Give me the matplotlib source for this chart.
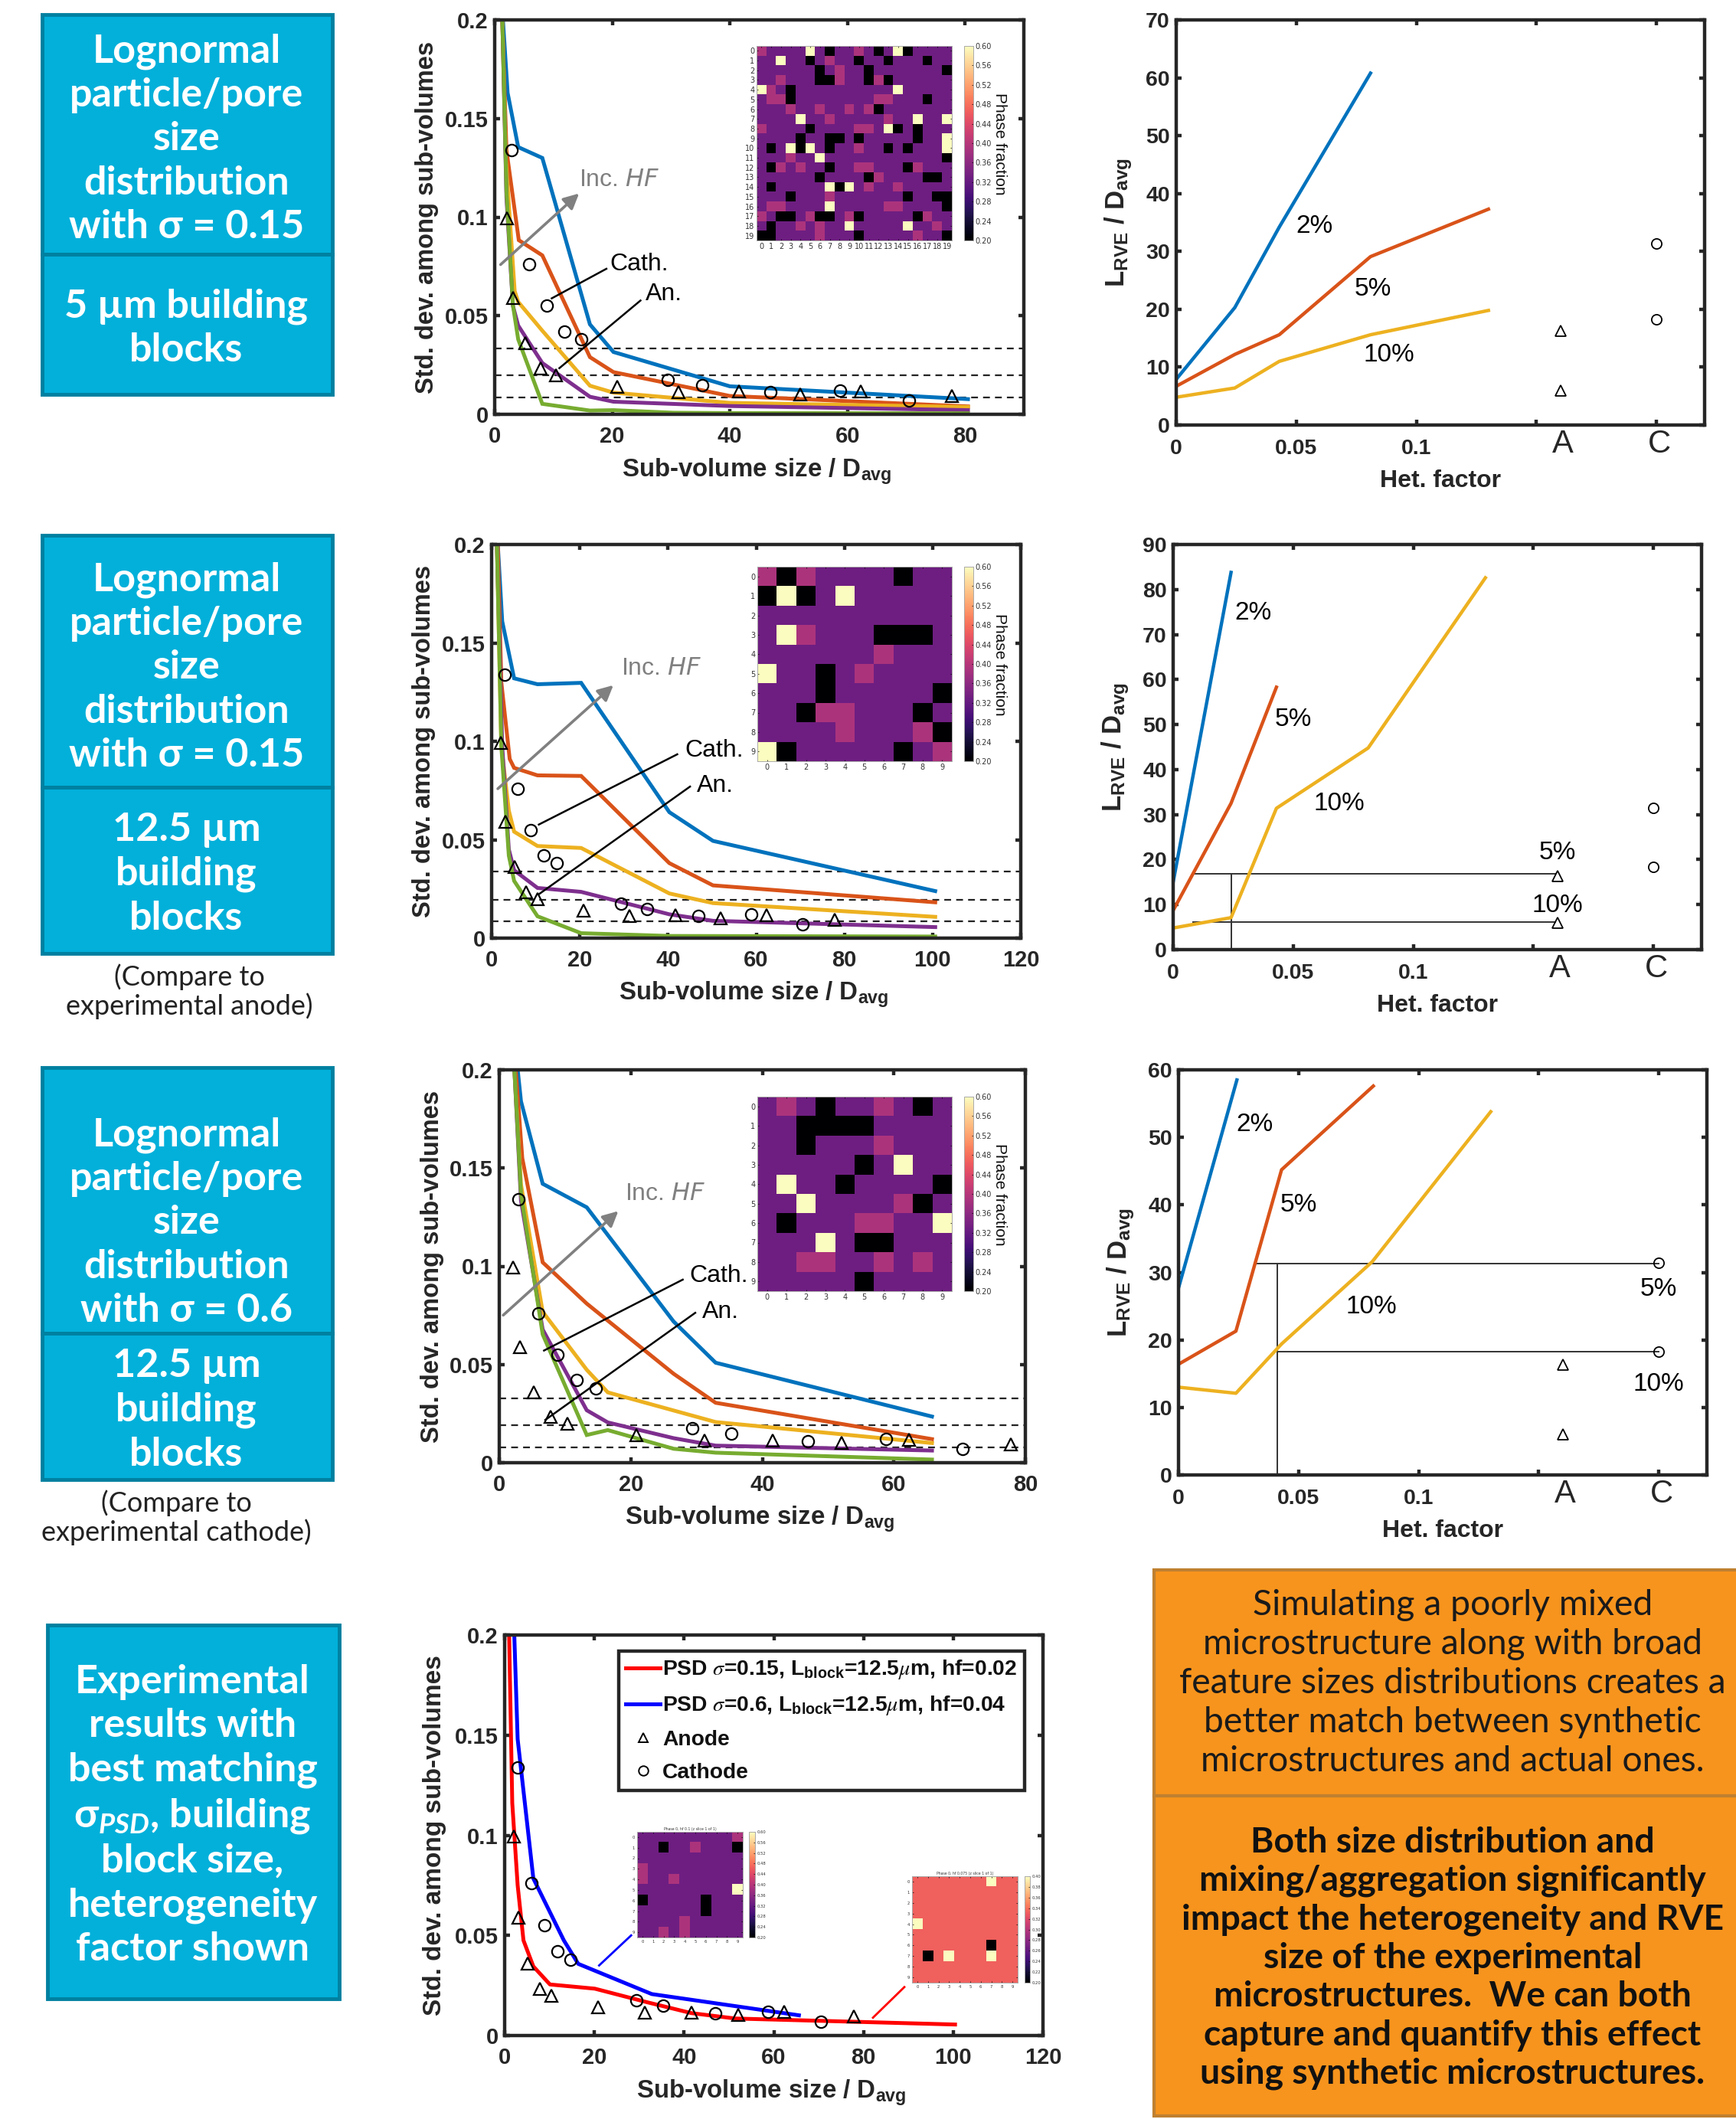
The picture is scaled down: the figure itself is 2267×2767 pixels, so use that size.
import numpy as np
import matplotlib
matplotlib.use("Agg")
import matplotlib.pyplot as plt
from matplotlib.patches import Rectangle
from matplotlib.lines import Line2D
from matplotlib.transforms import blended_transform_factory

plt.rcParams['font.family'] = ['Liberation Sans', 'DejaVu Sans']
plt.rcParams['mathtext.fontset'] = 'stix'
plt.rcParams['mathtext.default'] = 'regular'

W, H = 2267, 2767
DARK = '#262626'
C_BLUE, C_RED, C_YEL, C_PUR, C_GRN = '#0072BD', '#D95319', '#EDB120', '#7E2F8E', '#77AC30'
BOX_FILL, BOX_EDGE = '#02B0DA', '#0080A0'
ORG_FILL, ORG_EDGE = '#F7941D', '#BF8030'

# ---------------- experimental data
anode_x = [2.1, 3.1, 5.2, 7.8, 10.4, 20.8, 31.2, 41.6, 52.0, 62.3, 77.8]
anode_y = [0.0993, 0.059, 0.036, 0.0234, 0.020, 0.014, 0.0113, 0.0115, 0.0102, 0.0118, 0.0094]
cath_x = [2.9, 5.9, 8.9, 11.8, 14.7, 29.4, 35.3, 46.9, 58.8, 70.5]
cath_y = [0.134, 0.076, 0.055, 0.042, 0.038, 0.0176, 0.0148, 0.0111, 0.012, 0.007]
rve_anode_y = [16.3, 6.0]
rve_cath_y = [31.4, 18.3]
rve_anode_x = [0.16, 0.16]
rve_cath_x = [0.2, 0.2]

# ---------------- panel 1 curves
p1_blue = ([1.4, 2.2, 4, 8.1, 16.2, 20.2, 40, 80.5], [0.2, 0.163, 0.1355, 0.13, 0.0456, 0.0316, 0.0142, 0.0077])
p1_red = ([1.3, 2, 4.1, 8.1, 16.2, 20.2, 40, 80.5], [0.2, 0.134, 0.0883, 0.0806, 0.029, 0.0214, 0.0093, 0.004])
p1_yel = ([1.3, 1.9, 3.4, 4, 8.1, 16.2, 20.2, 40, 80.5], [0.2, 0.129, 0.0625, 0.057, 0.0424, 0.0145, 0.011, 0.0058, 0.0037])
p1_pur = ([1.3, 2, 3.1, 4, 8.1, 16.2, 20.2, 40, 80.5], [0.2, 0.11, 0.055, 0.045, 0.026, 0.0089, 0.0064, 0.0042, 0.0021])
p1_grn = ([1.3, 2, 3.1, 4, 8.1, 16.2, 20.2, 30.4, 40, 80.5], [0.2, 0.113, 0.0553, 0.038, 0.0053, 0.0019, 0.0021, 0.0008, 0.0006, 0.0005])
p1_hl = [0.0335, 0.0197, 0.0087]

# ---------------- panel 2 curves
p2_blue = ([1.4, 2.4, 5.1, 10.4, 20.3, 40.3, 50.2, 100.6], [0.2, 0.161, 0.132, 0.129, 0.1297, 0.064, 0.0494, 0.0239])
p2_red = ([1.4, 2.2, 4.1, 5.1, 10.4, 20.3, 40.3, 50.2, 100.6], [0.2, 0.13, 0.091, 0.0865, 0.0827, 0.0824, 0.0381, 0.0268, 0.0182])
p2_yel = ([1.2, 2.2, 3.9, 5.1, 10.4, 20.3, 40.3, 50.2, 100.6], [0.2, 0.0975, 0.0648, 0.0541, 0.0468, 0.0458, 0.0227, 0.0178, 0.0108])
p2_pur = ([1.2, 2.4, 3.9, 5.1, 10.4, 20.3, 40.3, 50.2, 100.6], [0.2, 0.0975, 0.0451, 0.0345, 0.0255, 0.0235, 0.0121, 0.0088, 0.0056])
p2_grn = ([1.2, 2.2, 3.9, 5.1, 10.4, 20.3, 40.3, 100.6], [0.2, 0.0975, 0.0419, 0.0291, 0.0111, 0.0025, 0.0011, 0.0008])
p2_hl = [0.0337, 0.0196, 0.0087]

# ---------------- panel 3 curves
p3_blue = ([2.8, 3.3, 6.6, 13.3, 26.5, 32.9, 65.8], [0.2, 0.184, 0.142, 0.13, 0.0719, 0.0509, 0.0235])
p3_red = ([2.5, 3.5, 6.6, 13.3, 26.5, 32.9, 65.8], [0.2, 0.155, 0.102, 0.081, 0.0453, 0.0305, 0.012])
p3_yel = ([2.3, 3.3, 6.6, 13.3, 16.5, 32.9, 65.8], [0.2, 0.1416, 0.0768, 0.0473, 0.0358, 0.0207, 0.01])
p3_pur = ([2.3, 3.3, 6.6, 13.3, 16.5, 26.5, 32.9, 65.8], [0.2, 0.1334, 0.0678, 0.0267, 0.0205, 0.0125, 0.0087, 0.0062])
p3_grn = ([2.3, 3.3, 6.6, 13.3, 16.5, 26.5, 32.9, 65.8], [0.2, 0.1367, 0.0653, 0.0141, 0.0166, 0.0071, 0.0051, 0.0016])
p3_hl = [0.0328, 0.019, 0.0079]

# ---------------- panel 4 curves
p4_red = ([1.0, 1.7, 2.9, 4.2, 6.4, 10.1, 20.1, 31.8, 41.6, 51.4, 71, 100.4],
          [0.2, 0.116, 0.075, 0.0475, 0.0345, 0.0255, 0.0234, 0.0166, 0.0112, 0.0085, 0.0073, 0.0055])
p4_blue = ([2.15, 2.9, 6.4, 13.2, 16.4, 32.8, 65.6], [0.2, 0.148, 0.0784, 0.0475, 0.0358, 0.0207, 0.0101])
p4_labels = ['PSD $\\mathit{\\sigma}$=0.15, L$_{block}$=12.5$\\mathit{\\mu}$m, hf=0.02',
             'PSD $\\mathit{\\sigma}$=0.6, L$_{block}$=12.5$\\mathit{\\mu}$m, hf=0.04',
             'Anode', 'Cathode']

# ---------------- RVE panels
r1_blue = ([0, 0.0244, 0.0429, 0.0809], [7.9, 20.3, 34.2, 60.8])
r1_red = ([0, 0.0244, 0.0429, 0.0809, 0.13], [6.7, 12.2, 15.6, 29.1, 37.3])
r1_yel = ([0, 0.0244, 0.0429, 0.0809, 0.13], [4.8, 6.4, 11.0, 15.6, 19.8])
r2_blue = ([0, 0.0241], [15.0, 83.8])
r2_red = ([0, 0.0241, 0.043], [8.7, 32.5, 58.3])
r2_yel = ([0, 0.0241, 0.043, 0.0812, 0.13], [4.8, 7.1, 31.4, 44.8, 82.6])
r3_blue = ([0, 0.0243], [27.7, 58.5])
r3_red = ([0, 0.0239, 0.0429, 0.0811], [16.4, 21.3, 45.2, 57.6])
r3_yel = ([0, 0.0239, 0.0429, 0.0807, 0.13], [13.0, 12.1, 19.4, 31.6, 53.8])
r2_guides = [([0.0084, 0.159], [16.9, 16.9]), ([0.0084, 0.159], [6.2, 6.2]), ([0.0241, 0.0241], [0, 16.9])]
r3_guides = [([0.0329, 0.2], [31.3, 31.3]), ([0.041, 0.2], [18.25, 18.25]), ([0.041, 0.041], [0, 31.3])]

# ---------------- heat maps
CELL = {'.': 0.33, 'p': 0.39, 'k': 0.20, 'c': 0.60}
map1 = ["p....c.k..p.k.ck....", "..c..k.p..k..k...k..", "......k.p..k.......k", "..p...kkp..kpk......",
        "cp.k..........c.....", ".ppk........pp...k..", "...p..p..p.pk.......", "....c..p.....p..c..c",
        "p....k....pp.ck.k...", "....k..kk.k.....k..c", ".k.ckc.k..p..k.k...c", "...p..c............k",
        ".kp.p..k..pp...kp...", "......k....kp....kk.", ".k.....ckc.p..p.....", "...k...p.......k..kk",
        ".pp....c.....pp....k", "p.kk.pkk.pk.....kp..", ".k..p.p..c.....c..p.", "kk....p...k.....p..k"]
map2 = ["pkp....k..", "kck.c.....", "..........", ".cp...kkk.", "......p...",
        "c..k.p....", "...k.....k", "..kpp...k.", "....p...pk", "ck.....k.p"]
map3 = [".p.k..p.k.", "..kkkk....", "..k...p...", ".....k.c..", ".c..k....k",
        "..c....pk.", ".k...pp..c", "...c.kk...", "..pp..p.p.", ".....k...."]
map4a = [".........p", "..k..p...k", "..........", "p.........", "p..p......",
         ".........c", "k.....k...", "......k...", "....p.....", "..p.p....."]
map4b_cell = {'.': 0.333, 'k': 0.20, 'c': 0.40}
map4b = [".......c..", "..........", "..........", "..........", "c.........",
         "..........", ".......k..", ".k.c...c..", "..........", ".........."]
cb_ticks_a = [0.20, 0.24, 0.28, 0.32, 0.36, 0.40, 0.44, 0.48, 0.52, 0.56, 0.60]
cb_ticks_b = [0.20, 0.22, 0.24, 0.26, 0.28, 0.30, 0.32, 0.34, 0.36, 0.38, 0.40]

# ---------------- box texts
BOX_TXT = [
    (55, 19, 434, 332, 5, "Lognormal\nparticle/pore\nsize\ndistribution\nwith σ = 0.15"),
    (55, 332, 434, 515, 4, "5 µm building\nblocks"),
    (55, 699, 434, 1028, 7, "Lognormal\nparticle/pore\nsize\ndistribution\nwith σ = 0.15"),
    (55, 1028, 434, 1245, 4, "12.5 µm\nbuilding\nblocks"),
    (55, 1394, 434, 1741, 28, "Lognormal\nparticle/pore\nsize\ndistribution\nwith σ = 0.6"),
    (55, 1741, 434, 1932, 4, "12.5 µm\nbuilding\nblocks"),
    (62, 2122, 443, 2610, 4, "Experimental\nresults with\nbest matching\nσ$_{\\mathit{PSD}}$, building\nblock size,\nheterogeneity\nfactor shown"),
]
ORG_TXT_1 = ("Simulating a poorly mixed\nmicrostructure along with broad\nfeature sizes distributions creates a\n"
             "better match between synthetic\nmicrostructures and actual ones.")
ORG_TXT_2 = ("Both size distribution and\nmixing/aggregation significantly\nimpact the heterogeneity and RVE\n"
             "size of the experimental\nmicrostructures.  We can both\ncapture and quantify this effect\n"
             "using synthetic microstructures.")
CAPTION_A = "(Compare to\nexperimental anode)"
CAPTION_C = "(Compare to\nexperimental cathode)"

fig = plt.figure(figsize=(W / 100, H / 100), dpi=100, facecolor='white')


def add_ax(l, t, r, b, **kw):
    return fig.add_axes([l / W, 1 - b / H, (r - l) / W, (b - t) / H], **kw)


def fx(x): return x / W
def fy(y): return 1 - y / H


BOXFONT = ['Lato', 'Open Sans', 'DejaVu Sans']
plt.rcParams['mathtext.it'] = 'Lato:italic:bold'
plt.rcParams['mathtext.rm'] = 'Lato:bold'


def box(l, t, r, b, fill, edge, lw=3.0):
    fig.add_artist(Rectangle((fx(l), fy(b)), (r - l) / W, (b - t) / H, transform=fig.transFigure,
                             facecolor=fill, edgecolor=edge, linewidth=lw))


for (l, t, r, b, dy, s) in BOX_TXT:
    box(l, t, r, b, BOX_FILL, BOX_EDGE, 3.5)
    fig.text(fx((l + r) / 2 - 1), fy((t + b) / 2 + 1 + dy), s, color='white', ha='center', va='center', fontsize=37.5,
             fontweight='bold', family=BOXFONT, linespacing=1.27, math_fontfamily='custom')

box(1507, 2050, 2272, 2345, ORG_FILL, ORG_EDGE, 3.0)
box(1507, 2345, 2272, 2763, ORG_FILL, ORG_EDGE, 3.0)
fig.text(fx(1897), fy(2198), ORG_TXT_1, ha='center', va='center', fontsize=33.3, color='#1a1a1a',
         family=BOXFONT, linespacing=1.26)
fig.text(fx(1897), fy(2557), ORG_TXT_2, ha='center', va='center', fontsize=33.3, color='#111111', fontweight='bold',
         family=BOXFONT, linespacing=1.24)
fig.text(fx(247), fy(1295), CAPTION_A, ha='center', va='center', fontsize=26, color='#222222', family=BOXFONT,
         linespacing=1.12)
fig.text(fx(230), fy(1982), CAPTION_C, ha='center', va='center', fontsize=26, color='#222222', family=BOXFONT,
         linespacing=1.12)


def style(ax, xlim, ylim, xticks, yticks, xticklabels=None, yticklabels=None, tfs=21, xpad=11):
    ax.set_xlim(*xlim)
    ax.set_ylim(*ylim)
    ax.set_xticks(xticks)
    ax.set_yticks(yticks)
    if xticklabels is not None:
        ax.set_xticklabels(xticklabels)
    if yticklabels is not None:
        ax.set_yticklabels(yticklabels)
    ax.tick_params(which='both', direction='in', top=True, right=True, length=5, width=3.2, color=DARK)
    ax.tick_params(axis='x', pad=xpad, labelsize=tfs, labelcolor=DARK)
    ax.tick_params(axis='y', pad=6, labelsize=tfs, labelcolor=DARK)
    for lab in ax.get_xticklabels() + ax.get_yticklabels():
        lab.set_fontweight('bold')
    for sp in ax.spines.values():
        sp.set_linewidth(3.2)
        sp.set_color(DARK)


YT = [0, 0.05, 0.1, 0.15, 0.2]
YTL = ['0', '0.05', '0.1', '0.15', '0.2']


def std_panel(ax, xlim, xticks, curves, hl, arrow, inc, cath, an):
    style(ax, (0, xlim), (0, 0.2), xticks, YT, [str(v) for v in xticks], YTL)
    for y in hl:
        ax.plot([0, xlim], [y, y], color='#222222', ls=(0, (4, 3)), lw=1.6, zorder=1)
    for (c, col) in curves:
        ax.plot(c[0], c[1], color=col, lw=3.6, solid_joinstyle='miter', zorder=2)
    ax.plot(anode_x, anode_y, ls='none', marker='^', mfc='none', mec='black', mew=1.6, ms=11, zorder=4, clip_on=False)
    ax.plot(cath_x, cath_y, ls='none', marker='o', mfc='none', mec='black', mew=1.6, ms=11, zorder=4, clip_on=False)
    ax.annotate('', xy=arrow[1], xytext=arrow[0],
                arrowprops=dict(arrowstyle='-|>', color='#808080', lw=2.6, mutation_scale=30, shrinkA=0, shrinkB=0), zorder=3)
    ax.text(inc[0], inc[1], 'Inc. $\\mathit{HF}$', color='#808080', fontsize=23, va='center', ha='left',
            math_fontfamily='dejavusans')
    ax.plot(cath[0], cath[1], color='black', lw=1.8, zorder=3)
    ax.text(cath[2], cath[3], 'Cath.', fontsize=23, va='center', ha='left', color='black', zorder=6)
    ax.plot(an[0], an[1], color='black', lw=1.8, zorder=3)
    ax.text(an[2], an[3], 'An.', fontsize=23, va='center', ha='left', color='black')
    ax.set_xlabel('Sub-volume size / D$_{avg}$', fontsize=23.8, fontweight='bold', color=DARK)
    ax.set_ylabel('Std. dev. among sub-volumes', fontsize=23.5, fontweight='bold', color=DARK)
    ax.xaxis.set_label_coords(0.495, -0.107)
    ax.yaxis.set_label_coords(-0.105, 0.5)


def heat(grid, cellmap, l, t, r, b, cb_l, cb_r, ticks, vmax, fs=7, title=None, cbl=True):
    vals = np.array([[cellmap[ch] for ch in row] for row in grid])
    ax = add_ax(l, t, r, b)
    im = ax.imshow(vals, cmap='magma', vmin=0.2, vmax=vmax, aspect='auto', interpolation='nearest')
    n = len(grid)
    ax.set_xticks(range(n))
    ax.set_yticks(range(n))
    ax.tick_params(labelsize=fs, length=1.5, width=0.5, direction='in', top=True, right=True, pad=2, labelcolor='#333333')
    for sp in ax.spines.values():
        sp.set_linewidth(0.7)
        sp.set_color('#aaaaaa')
    for lab in ax.get_xticklabels() + ax.get_yticklabels():
        lab.set_family('DejaVu Sans')
    cax = add_ax(cb_l, t, cb_r, b)
    cb = fig.colorbar(im, cax=cax, ticks=ticks)
    cb.ax.set_yticklabels(['%.2f' % v for v in ticks])
    cb.ax.tick_params(labelsize=fs, length=1.5, width=0.5, direction='in', pad=2, labelcolor='#333333')
    for lab in cb.ax.get_yticklabels():
        lab.set_family('DejaVu Sans')
    cb.outline.set_linewidth(0.7)
    cb.outline.set_edgecolor('#aaaaaa')
    if cbl:
        fig.text(fx(cb_r + 34), fy((t + b) / 2 + 1), 'Phase fraction', rotation=270, fontsize=15, ha='center', va='center', color='#111111')
    if title:
        ax.set_title(title, fontsize=fs - 0.5, pad=1.5, color='#333333', family='DejaVu Sans')
    return ax


# --- panel 1
ax1 = add_ax(646, 26, 1337, 541)
std_panel(ax1, 90, [0, 20, 40, 60, 80],
          [(p1_blue, C_BLUE), (p1_red, C_RED), (p1_yel, C_YEL), (p1_pur, C_PUR), (p1_grn, C_GRN)], p1_hl,
          ((1.0, 0.0759), (14.35, 0.112)), (14.35, 0.119),
          ([9.7, 19], [0.0588, 0.0738], 19.6, 0.0762), ([11, 24.8], [0.0234, 0.0577], 25.6, 0.0609))
heat(map1, CELL, 988, 60, 1243, 314, 1259, 1271, cb_ticks_a, 0.6)

# --- panel 2
ax2 = add_ax(642, 711, 1333, 1225)
std_panel(ax2, 120, [0, 20, 40, 60, 80, 100, 120],
          [(p2_blue, C_BLUE), (p2_red, C_RED), (p2_yel, C_YEL), (p2_pur, C_PUR), (p2_grn, C_GRN)], p2_hl,
          ((1.4, 0.0759), (27.6, 0.1285)), (29.3, 0.137),
          ([10.7, 42.1], [0.0577, 0.0934], 43.8, 0.0955), ([10.9, 45], [0.0226, 0.077], 46.6, 0.0775))
heat(map2, CELL, 989, 740, 1243, 994, 1259, 1271, cb_ticks_a, 0.6)

# --- panel 3
ax3 = add_ax(652, 1397, 1339, 1910)
std_panel(ax3, 80, [0, 20, 40, 60, 80],
          [(p3_blue, C_BLUE), (p3_red, C_RED), (p3_yel, C_YEL), (p3_pur, C_PUR), (p3_grn, C_GRN)], p3_hl,
          ((0.6, 0.0751), (18.1, 0.1281)), (19.1, 0.137),
          ([6.8, 27.9], [0.0571, 0.0932], 28.9, 0.0952), ([7, 29.8], [0.0218, 0.0763], 30.8, 0.0768))
heat(map3, CELL, 989, 1432, 1243, 1686, 1259, 1271, cb_ticks_a, 0.6)

# --- panel 4
ax4 = add_ax(659, 2135, 1362, 2658)
xt4 = [0, 20, 40, 60, 80, 100, 120]
style(ax4, (0, 120), (0, 0.2), xt4, YT, [str(v) for v in xt4], YTL)
l_r, = ax4.plot(p4_red[0], p4_red[1], color='#FF0000', lw=3.6, zorder=2)
l_b, = ax4.plot(p4_blue[0], p4_blue[1], color='#0000FF', lw=3.6, zorder=2)
m_a, = ax4.plot(anode_x, anode_y, ls='none', marker='^', mfc='none', mec='black', mew=1.6, ms=11, zorder=4)
m_c, = ax4.plot(cath_x, cath_y, ls='none', marker='o', mfc='none', mec='black', mew=1.6, ms=11, zorder=4)
ax4.plot([21.06, 28.2], [0.035, 0.05], color='#0000FF', lw=2)
ax4.plot([82.1, 89.1], [0.0089, 0.0242], color='#FF0000', lw=2)
ax4.set_xlabel('Sub-volume size / D$_{avg}$', fontsize=23.8, fontweight='bold', color=DARK)
ax4.set_ylabel('Std. dev. among sub-volumes', fontsize=24, fontweight='bold', color=DARK)
ax4.xaxis.set_label_coords(0.495, -0.107)
ax4.yaxis.set_label_coords(-0.108, 0.5)
leg_h = [l_r, l_b,
         Line2D([], [], ls='none', marker='^', mfc='none', mec='black', mew=1.4, ms=9),
         Line2D([], [], ls='none', marker='o', mfc='none', mec='black', mew=1.4, ms=9)]
leg = ax4.legend(leg_h, p4_labels, loc='upper left', bbox_to_anchor=((807.5 - 659) / 703, 1 - (2155.6 - 2135) / 523),
                 borderaxespad=0, fancybox=False, framealpha=1, edgecolor=DARK, handlelength=1.6, handletextpad=0.1,
                 labelspacing=0.6, borderpad=0.35, prop=dict(family='Liberation Sans', weight='bold', size=20.3))
leg.get_frame().set_linewidth(3.2)
for t in leg.get_texts():
    t.set_color('#111111')
heat(map4a, CELL, 832, 2392, 970, 2530, 978, 986, cb_ticks_a, 0.6, fs=3.8, title='Phase 0, hf 0.1 (z slice 1 of 1)', cbl=False)
heat(map4b, map4b_cell, 1191, 2450, 1329, 2589, 1338, 1345, cb_ticks_b, 0.4, fs=3.8, title='Phase 0, hf 0.075 (z slice 1 of 1)', cbl=False)


# --- RVE panels
def rve_panel(ax, ymax, yticks, curves, guides, labels):
    style(ax, (0, 0.22), (0, ymax), [0, 0.05, 0.1, 0.15, 0.2], yticks, ['0', '0.05', '0.1', '', ''],
          [str(v) for v in yticks], tfs=20.5, xpad=13)
    for g in guides:
        ax.plot(g[0], g[1], color='#333333', lw=1.4, zorder=1)
    for (c, col) in curves:
        ax.plot(c[0], c[1], color=col, lw=3.2, zorder=2)
    ax.plot(rve_anode_x, rve_anode_y, ls='none', marker='^', mfc='none', mec='black', mew=1.3, ms=9.5, zorder=4)
    ax.plot(rve_cath_x, rve_cath_y, ls='none', marker='o', mfc='none', mec='black', mew=1.3, ms=9.5, zorder=4)
    for (s, x, y) in labels:
        ax.text(x, y - ymax * 0.004, s, fontsize=24, ha='center', va='center', color='black')
    tr = blended_transform_factory(ax.transData, ax.transAxes)
    ax.text(0.1608, -0.048, 'A', transform=tr, fontsize=30, ha='center', va='center', color=DARK)
    ax.text(0.2012, -0.048, 'C', transform=tr, fontsize=30, ha='center', va='center', color=DARK)
    ax.set_xlabel('Het. factor', fontsize=23, fontweight='bold', color=DARK)
    ax.set_ylabel('L$_{RVE}$ / D$_{avg}$', fontsize=25, fontweight='bold', color=DARK)
    ax.xaxis.set_label_coords(0.5, -0.11)
    ax.yaxis.set_label_coords(-0.08, 0.5)


axr1 = add_ax(1536, 26, 2226, 555)
rve_panel(axr1, 70, list(range(0, 71, 10)), [(r1_blue, C_BLUE), (r1_red, C_RED), (r1_yel, C_YEL)], [],
          [('2%', 0.0575, 34.6), ('5%', 0.082, 23.8), ('10%', 0.0886, 12.4)])
axr2 = add_ax(1532, 711, 2222, 1240)
rve_panel(axr2, 90, list(range(0, 91, 10)), [(r2_blue, C_BLUE), (r2_red, C_RED), (r2_yel, C_YEL)], r2_guides,
          [('2%', 0.0334, 75.2), ('5%', 0.05, 51.5), ('10%', 0.069, 32.7), ('5%', 0.16, 21.8), ('10%', 0.16, 10.1)])
axr3 = add_ax(1539, 1397, 2229, 1926)
rve_panel(axr3, 60, list(range(0, 61, 10)), [(r3_blue, C_BLUE), (r3_red, C_RED), (r3_yel, C_YEL)], r3_guides,
          [('2%', 0.0318, 52.1), ('5%', 0.05, 40.2), ('10%', 0.0802, 25.1), ('5%', 0.2, 27.8), ('10%', 0.2, 13.7)])

fig.savefig('out.png', dpi=100, facecolor='white')
